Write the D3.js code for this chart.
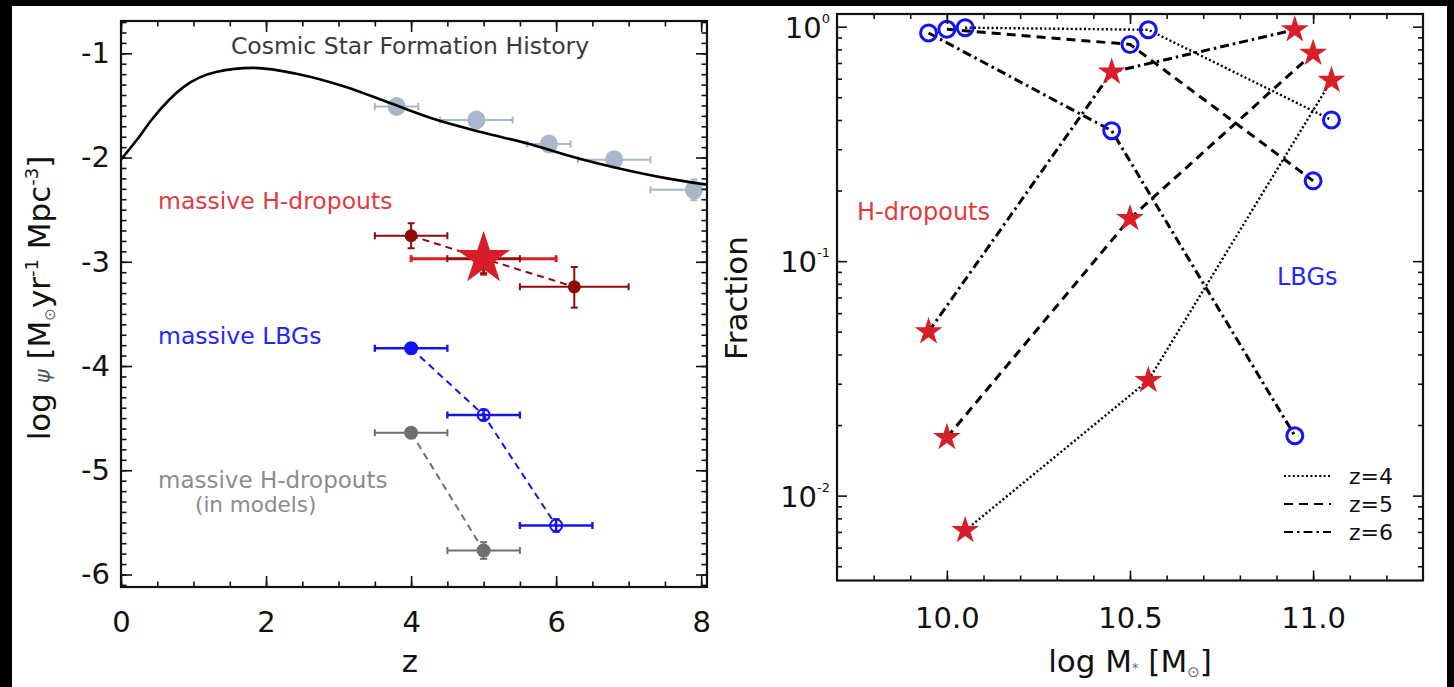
<!DOCTYPE html>
<html>
<head>
<meta charset="utf-8">
<script src="https://cdn.jsdelivr.net/npm/d3@7"></script>
<style>
  html, body { margin: 0; padding: 0; background: #000; }
  svg { display: block; }
  text { font-family: "DejaVu Sans", sans-serif; }
  .tick text { font-family: "DejaVu Sans", sans-serif; }
</style>
</head>
<body>
<script>
// ---- left panel: cosmic SFR density ----
const sfhCurveZ   = [0, 0.23, 0.42, 0.87, 1.31, 1.82, 2.45, 3.09, 3.72, 4.36, 4.99, 5.63, 6.26, 6.9, 7.53, 8.08];
const sfhCurveLog = [-2.02, -1.82, -1.64, -1.32, -1.18, -1.14, -1.20, -1.32, -1.48, -1.64, -1.76, -1.87, -2.0, -2.11, -2.20, -2.26];

const sfhZ    = [3.8, 4.9, 5.9, 6.8, 7.9];
const sfhLog  = [-1.51, -1.64, -1.87, -2.02, -2.31];
const sfhZlo  = [3.5, 4.4, 5.6, 6.3, 7.3];
const sfhZhi  = [4.1, 5.4, 6.2, 7.3, 8.5];
const sfhErr  = [0.04, 0.04, 0.05, 0.06, 0.1];

const hdZ     = [4, 5, 6.25];
const hdLog   = [-2.75, -2.97, -3.24];
const hdZlo   = [3.5, 4.5, 5.5];
const hdZhi   = [4.5, 5.5, 7.0];
const hdLogLo = [-2.87, -3.11, -3.44];
const hdLogHi = [-2.63, -2.83, -3.05];

const starZ = 5, starLog = -2.97, starZlo = 4.0, starZhi = 6.0;

const lbgZ    = [4, 5, 6];
const lbgLog  = [-3.83, -4.47, -5.53];
const lbgErr  = [0.03, 0.03, 0.04];

const modelZ   = [4, 5];
const modelLog = [-4.64, -5.77];
const modelErr = [0.03, 0.08];

// ---- right panel: fractions vs stellar mass ----
const redshifts = [4, 5, 6];
const massBins = {
  4: [10.05, 10.55, 11.05],
  5: [10.0, 10.5, 11.0],
  6: [9.95, 10.45, 10.95]
};
const lbgFrac = {
  4: [0.99, 0.97, 0.40],
  5: [0.975, 0.84, 0.22],
  6: [0.94, 0.36, 0.018]
};
const hdFrac = {
  4: [0.0071, 0.031, 0.59],
  5: [0.0177, 0.152, 0.77],
  6: [0.050, 0.64, 0.97]
};

const W = 1454, H = 687;
const RED = "#d81e28", DARKRED = "#8e0a0a", BLUE = "#1414f0", GREY = "#707070", STEEL = "#a9b7cb";
const dashStyle = { 4: "2,2.4", 5: "9,6", 6: "9,4,2.5,4" };

const svg = d3.select("body").append("svg").attr("width", W).attr("height", H);
svg.append("rect").attr("x", 12).attr("y", 6).attr("width", 1435).attr("height", H - 6).attr("fill", "#fff");

function frameTicks(g, x, y, opts) {
  const [x0, x1] = x.range(), [y0, y1] = y.range();
  const ax = (axis) => g.append("g").call(axis).call(s => s.select(".domain").remove());
  // bottom + top
  ax(d3.axisBottom(x).tickValues(opts.xMajor).tickSize(-opts.big).tickPadding(opts.xPad).tickFormat(opts.xFmt))
    .attr("transform", `translate(0,${y0})`);
  ax(d3.axisBottom(x).tickValues(opts.xMinor).tickSize(-opts.small).tickFormat(""))
    .attr("transform", `translate(0,${y0})`);
  ax(d3.axisTop(x).tickValues(opts.xMajor).tickSize(-opts.big).tickFormat(""))
    .attr("transform", `translate(0,${y1})`);
  ax(d3.axisTop(x).tickValues(opts.xMinor).tickSize(-opts.small).tickFormat(""))
    .attr("transform", `translate(0,${y1})`);
  // left + right
  ax(d3.axisLeft(y).tickValues(opts.yMajor).tickSize(-opts.big).tickPadding(opts.yPad).tickFormat(opts.yFmt || ""))
    .attr("transform", `translate(${x0},0)`);
  ax(d3.axisLeft(y).tickValues(opts.yMinor).tickSize(-opts.small).tickFormat(""))
    .attr("transform", `translate(${x0},0)`);
  ax(d3.axisRight(y).tickValues(opts.yMajor).tickSize(-opts.big).tickFormat(""))
    .attr("transform", `translate(${x1},0)`);
  ax(d3.axisRight(y).tickValues(opts.yMinor).tickSize(-opts.small).tickFormat(""))
    .attr("transform", `translate(${x1},0)`);
  g.selectAll(".tick line").attr("stroke", "#111").attr("stroke-width", 1.6);
  g.selectAll(".tick text").attr("font-size", 29).attr("fill", "#111");
  g.append("rect").attr("x", x0).attr("y", y1).attr("width", x1 - x0).attr("height", y0 - y1)
    .attr("fill", "none").attr("stroke", "#111").attr("stroke-width", 2.2);
}

function errBar(g, color, xa, xb, y, xc, ya, yb, cap, w) {
  g.append("line").attr("x1", xa).attr("x2", xb).attr("y1", y).attr("y2", y);
  g.append("line").attr("x1", xa).attr("x2", xa).attr("y1", y - cap).attr("y2", y + cap);
  g.append("line").attr("x1", xb).attr("x2", xb).attr("y1", y - cap).attr("y2", y + cap);
  g.append("line").attr("x1", xc).attr("x2", xc).attr("y1", ya).attr("y2", yb);
  g.append("line").attr("x1", xc - cap).attr("x2", xc + cap).attr("y1", ya).attr("y2", ya);
  g.append("line").attr("x1", xc - cap).attr("x2", xc + cap).attr("y1", yb).attr("y2", yb);
  g.selectAll("line").attr("stroke", color).attr("stroke-width", w);
}

// ================= LEFT =================
const xL = d3.scaleLinear().domain([0, 8.08]).range([121, 707]);
const yL = d3.scaleLinear().domain([-6.12, -0.69]).range([587, 21]);

svg.append("clipPath").attr("id", "clipL").append("rect")
  .attr("x", 121).attr("y", 21).attr("width", 586).attr("height", 566);
const pL = svg.append("g").attr("clip-path", "url(#clipL)");

// CSFH points
sfhZ.forEach((z, i) => {
  errBar(pL.append("g"), STEEL, xL(sfhZlo[i]), xL(sfhZhi[i]), yL(sfhLog[i]), xL(z),
    yL(sfhLog[i] + sfhErr[i]), yL(sfhLog[i] - sfhErr[i]), 3.5, 2);
  pL.append("ellipse").attr("cx", xL(z)).attr("cy", yL(sfhLog[i])).attr("rx", 9).attr("ry", 9.5).attr("fill", STEEL);
});
pL.append("path")
  .datum(sfhCurveZ.map((z, i) => [z, sfhCurveLog[i]]))
  .attr("d", d3.line().x(d => xL(d[0])).y(d => yL(d[1])).curve(d3.curveMonotoneX))
  .attr("fill", "none").attr("stroke", "#000").attr("stroke-width", 2.6);

// big star error bar (behind)
errBar(pL.append("g"), RED, xL(starZlo), xL(starZhi), yL(starLog), xL(starZ), yL(starLog), yL(starLog - 0.15), 3.5, 3);

// massive H-dropouts (observed)
pL.append("path")
  .datum(hdZ.map((z, i) => [z, hdLog[i]]))
  .attr("d", d3.line().x(d => xL(d[0])).y(d => yL(d[1])))
  .attr("fill", "none").attr("stroke", DARKRED).attr("stroke-width", 2).attr("stroke-dasharray", "7,5");
hdZ.forEach((z, i) => {
  errBar(pL.append("g"), DARKRED, xL(hdZlo[i]), xL(hdZhi[i]), yL(hdLog[i]), xL(z), yL(hdLogHi[i]), yL(hdLogLo[i]), 3.5, 2);
  pL.append("circle").attr("cx", xL(z)).attr("cy", yL(hdLog[i])).attr("r", 6.5).attr("fill", DARKRED);
});
pL.append("path").attr("d", d3.symbol(d3.symbolStar, 880)())
  .attr("transform", `translate(${xL(starZ)},${yL(starLog)})`).attr("fill", RED);

// massive LBGs
pL.append("path")
  .datum(lbgZ.map((z, i) => [z, lbgLog[i]]))
  .attr("d", d3.line().x(d => xL(d[0])).y(d => yL(d[1])))
  .attr("fill", "none").attr("stroke", BLUE).attr("stroke-width", 2).attr("stroke-dasharray", "7,5");
lbgZ.forEach((z, i) => {
  errBar(pL.append("g"), BLUE, xL(z - 0.5), xL(z + 0.5), yL(lbgLog[i]), xL(z),
    yL(lbgLog[i] + lbgErr[i]) - 2, yL(lbgLog[i] - lbgErr[i]) + 2, 3.5, 2.4);
  pL.append("circle").attr("cx", xL(z)).attr("cy", yL(lbgLog[i])).attr("r", 6)
    .attr("fill", i === 0 ? BLUE : "none").attr("stroke", BLUE).attr("stroke-width", 2);
});

// model H-dropouts
pL.append("path")
  .datum(modelZ.map((z, i) => [z, modelLog[i]]))
  .attr("d", d3.line().x(d => xL(d[0])).y(d => yL(d[1])))
  .attr("fill", "none").attr("stroke", GREY).attr("stroke-width", 2).attr("stroke-dasharray", "7,5");
modelZ.forEach((z, i) => {
  errBar(pL.append("g"), GREY, xL(z - 0.5), xL(z + 0.5), yL(modelLog[i]), xL(z),
    yL(modelLog[i] + modelErr[i]), yL(modelLog[i] - modelErr[i]), 3.5, 2);
  pL.append("circle").attr("cx", xL(z)).attr("cy", yL(modelLog[i])).attr("r", 7).attr("fill", GREY);
});

const gL = svg.append("g");
frameTicks(gL, xL, yL, {
  xMajor: [0, 2, 4, 6, 8], xMinor: d3.range(0, 17).map(i => i / 2), xFmt: d => String(d), xPad: 24,
  yMajor: [-6, -5, -4, -3, -2, -1], yMinor: d3.range(-61, -6).map(i => i / 10), yFmt: d => String(d), yPad: 11,
  big: 11, small: 5.5
});

svg.append("text").attr("x", 410).attr("y", 54).attr("text-anchor", "middle")
  .attr("font-size", 23.5).attr("fill", "#3a3a3a").text("Cosmic Star Formation History");
svg.append("text").attr("x", 158).attr("y", 209).attr("font-size", 23.5).attr("fill", "#e23a40").text("massive H-dropouts");
svg.append("text").attr("x", 158).attr("y", 344).attr("font-size", 23.5).attr("fill", "#2525ff").text("massive LBGs");
svg.append("text").attr("x", 158).attr("y", 488).attr("font-size", 23).attr("fill", "#8c8c8c").text("massive H-dropouts");
svg.append("text").attr("x", 195).attr("y", 512).attr("font-size", 21.5).attr("fill", "#8c8c8c").text("(in models)");

svg.append("text").attr("x", 410).attr("y", 672).attr("text-anchor", "middle").attr("font-size", 31).attr("fill", "#111").text("z");

const yLab = svg.append("text").attr("transform", "translate(50,298) rotate(-90)")
  .attr("text-anchor", "middle").attr("font-size", 31).attr("fill", "#111");
yLab.append("tspan").text("log ");
yLab.append("tspan").attr("font-size", 21).attr("font-style", "italic").attr("fill", "#555").text("ψ");
yLab.append("tspan").text(" [M");
yLab.append("tspan").attr("font-size", 15).attr("dy", 5).attr("fill", "#666").text("⊙");
yLab.append("tspan").attr("dy", -5).text("yr");
yLab.append("tspan").attr("font-size", 18).attr("dy", -12).text("-1");
yLab.append("tspan").attr("dy", 12).text(" Mpc");
yLab.append("tspan").attr("font-size", 18).attr("dy", -12).text("-3");
yLab.append("tspan").attr("dy", 12).text("]");

// ================= RIGHT =================
const xR = d3.scaleLinear().domain([9.7, 11.3]).range([837, 1423]);
const yR = d3.scaleLog().domain([Math.pow(10, -2.362), Math.pow(10, 0.054)]).range([580.5, 14]);

const pR = svg.append("g");
const lineR = d3.line().x(d => xR(d[0])).y(d => yR(d[1]));
redshifts.forEach(z => {
  [lbgFrac[z], hdFrac[z]].forEach(f => {
    pR.append("path").datum(massBins[z].map((m, i) => [m, f[i]]))
      .attr("d", lineR).attr("fill", "none").attr("stroke", "#000")
      .attr("stroke-width", z === 4 ? 2.4 : 3).attr("stroke-dasharray", dashStyle[z]);
  });
});
redshifts.forEach(z => {
  massBins[z].forEach((m, i) => {
    pR.append("circle").attr("cx", xR(m)).attr("cy", yR(lbgFrac[z][i])).attr("r", 8)
      .attr("fill", "none").attr("stroke", BLUE).attr("stroke-width", 3);
    pR.append("path").attr("d", d3.symbol(d3.symbolStar, 240)())
      .attr("transform", `translate(${xR(m)},${yR(hdFrac[z][i])})`).attr("fill", RED);
  });
});

const gR = svg.append("g");
const minorLog = [];
[0.001, 0.01, 0.1].forEach(d => d3.range(2, 10).forEach(k => {
  const v = d * k;
  if (v >= yR.domain()[0] && v <= yR.domain()[1]) minorLog.push(v);
}));
frameTicks(gR, xR, yR, {
  xMajor: [10, 10.5, 11], xMinor: d3.range(98, 113).map(i => i / 10), xFmt: d3.format(".1f"), xPad: 27,
  yMajor: [0.01, 0.1, 1], yMinor: minorLog, yFmt: "", yPad: 8,
  big: 10, small: 5
});
[0.01, 0.1, 1].forEach(v => {
  const t = gR.append("text").attr("x", 830).attr("y", yR(v) + 11).attr("text-anchor", "end")
    .attr("font-size", 29).attr("fill", "#111");
  t.append("tspan").text("10");
  t.append("tspan").attr("font-size", 13).attr("dy", -15).text(String(Math.round(Math.log10(v))));
});

svg.append("text").attr("x", 857).attr("y", 220).attr("font-size", 24).attr("fill", "#e23a40").text("H-dropouts");
svg.append("text").attr("x", 1277).attr("y", 285).attr("font-size", 24).attr("fill", "#2525ff").text("LBGs");

// legend
redshifts.forEach((z, i) => {
  const ly = 476 + i * 28;
  svg.append("line").attr("x1", 1284).attr("x2", 1331).attr("y1", ly).attr("y2", ly)
    .attr("stroke", "#000").attr("stroke-width", z === 4 ? 1.8 : 2.2).attr("stroke-dasharray", dashStyle[z]);
  svg.append("text").attr("x", 1349).attr("y", ly + 8).attr("font-size", 22).attr("fill", "#111").text("z=" + z);
});

svg.append("text").attr("transform", "translate(747,298) rotate(-90)").attr("text-anchor", "middle")
  .attr("font-size", 31).attr("fill", "#111").text("Fraction");

const xLab = svg.append("text").attr("x", 1130).attr("y", 672).attr("text-anchor", "middle")
  .attr("font-size", 31).attr("fill", "#111");
xLab.append("tspan").text("log M");
xLab.append("tspan").attr("font-size", 13).attr("fill", "#666").text("*");
xLab.append("tspan").text(" [M");
xLab.append("tspan").attr("font-size", 15).attr("dy", 5).attr("fill", "#666").text("⊙");
xLab.append("tspan").attr("dy", -5).text("]");
</script>
</body>
</html>
